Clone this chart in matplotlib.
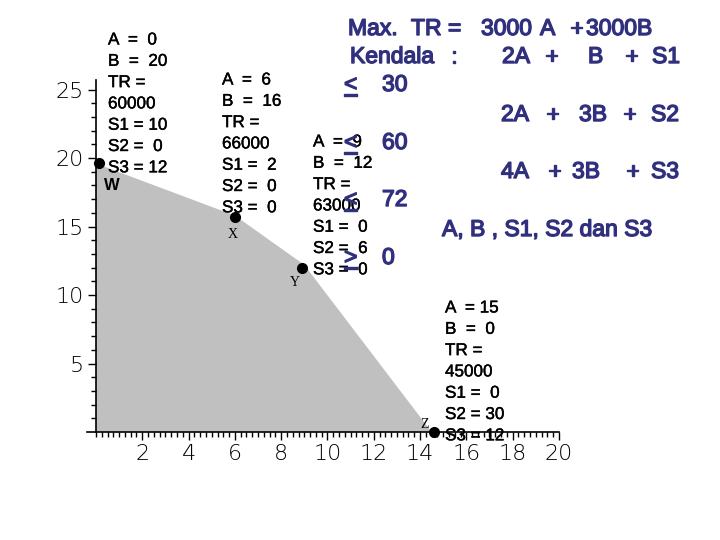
import matplotlib
matplotlib.use("Agg")
import matplotlib.pyplot as plt
import matplotlib.patheffects as pe
import numpy as np

# feasible region corners as drawn (A on x, B on y)
region_a = [0, 0, 6, 9, 14.5]
region_b = [0, 19.6, 15.8, 12.2, 0]

# corner points W, X, Y, Z
pt_names = ["W", "X", "Y", "Z"]
pt_a = [0.15, 6.0, 8.9, 14.6]
pt_b = [19.6, 15.7, 12.0, 0.0]

# text blocks next to each corner
info_w = ["A  =  0", "B  =  20", "TR =", "60000", "S1 = 10", "S2 =  0", "S3 = 12"]
info_x = ["A  =  6", "B  =  16", "TR =", "66000", "S1 =  2", "S2 =  0", "S3 =  0"]
info_y = ["A  =  9", "B  =  12", "TR =", "63000", "S1 =  0", "S2 =  6", "S3 =  0"]
info_z = ["A  = 15", "B  =  0", "TR =", "45000", "S1 =  0", "S2 = 30", "S3 = 12"]

navy = "#30307f"

fig = plt.figure(figsize=(7.2, 5.4), dpi=100)
ax = fig.add_axes([0.1333, 0.2, 0.643, 0.652])
ax.set_xlim(0, 20)
ax.set_ylim(0, 25.7)

ax.fill(region_a, region_b, color="#c0c0c0", lw=0, zorder=1)
ax.plot(pt_a, pt_b, "o", color="black", ms=7, zorder=5, clip_on=False)

for s in ["top", "right"]:
    ax.spines[s].set_visible(False)
ax.spines["left"].set_linewidth(1.2)
ax.spines["bottom"].set_linewidth(1.2)
ax.spines["bottom"].set_bounds(-0.4, 20)

ax.set_xticks(np.arange(2, 21, 2))
ax.set_yticks(np.arange(5, 26, 5))
ax.set_xticks(np.arange(-0.25, 20.01, 0.25), minor=True)
ax.set_yticks(np.arange(1, 26, 1), minor=True)
ax.tick_params(which="major", length=6, width=1, labelsize=16, pad=3)
ax.tick_params(which="minor", length=3.5, width=1)
for lab in ax.get_xticklabels() + ax.get_yticklabels():
    lab.set_fontweight("light")
ax.set_xlim(0, 20)

# black annotations (figure pixel coordinates, origin top-left)
def put_block(lines, x, y0, step=21.3):
    for i, t in enumerate(lines):
        fig.text(x / 720, 1 - (y0 + i * step) / 540, t, fontsize=12.3,
                 family="Liberation Sans", va="center", ha="left", zorder=10,
                 path_effects=[pe.withStroke(linewidth=0.3, foreground="black")])

put_block(info_w, 108, 40)
put_block(info_x, 222, 80)
put_block(info_y, 313, 142)
put_block(info_z, 445, 308)

fig.text(104 / 720, 1 - 185 / 540, "W", fontsize=12, weight="bold",
         family="Liberation Sans", va="center")
fig.text(228 / 720, 1 - 234 / 540, "X", fontsize=10, family="Liberation Serif", va="center")
fig.text(290 / 720, 1 - 283 / 540, "Y", fontsize=10, family="Liberation Serif", va="center")
fig.text(420 / 720, 1 - 424 / 540, "Z", fontsize=10, family="Liberation Serif", va="center")

# model text in navy, y is the middle of the capitals
def put_blue(t, x, y):
    fig.text(x / 720, 1 - (y + 8) / 540, t, fontsize=16.5, color=navy,
             family="Liberation Sans", va="baseline", ha="left", zorder=11,
             path_effects=[pe.withStroke(linewidth=1.0, foreground=navy)])

def put_row(tokens, xs, y):
    for t, x in zip(tokens, xs):
        put_blue(t, x, y)

def put_rel(sym, num, y):
    # "<" or ">" with a bar under it, then the bound
    put_blue(sym, 344, y)
    put_blue("_", 344, y)
    put_blue(num, 382, y)

put_row(["Max.", "TR =", "3000", "A", "+", "3000B"], [348, 411, 481, 540, 570, 586], 27)
put_row(["Kendala", ":", "2A", "+", "B", "+", "S1"], [350, 451, 502, 545, 588, 625, 652], 55)
put_rel("<", "30", 83)
put_row(["2A", "+", "3B", "+", "S2"], [501, 546, 579, 623, 651], 113)
put_rel("<", "60", 141)
put_row(["4A", "+", "3B", "+", "S3"], [501, 548, 572, 626, 651], 170)
put_rel("<", "72", 198)
put_blue("A, B , S1, S2 dan S3", 442, 228)
put_rel(">", "0", 256)

fig.savefig("out.png", dpi=100)
